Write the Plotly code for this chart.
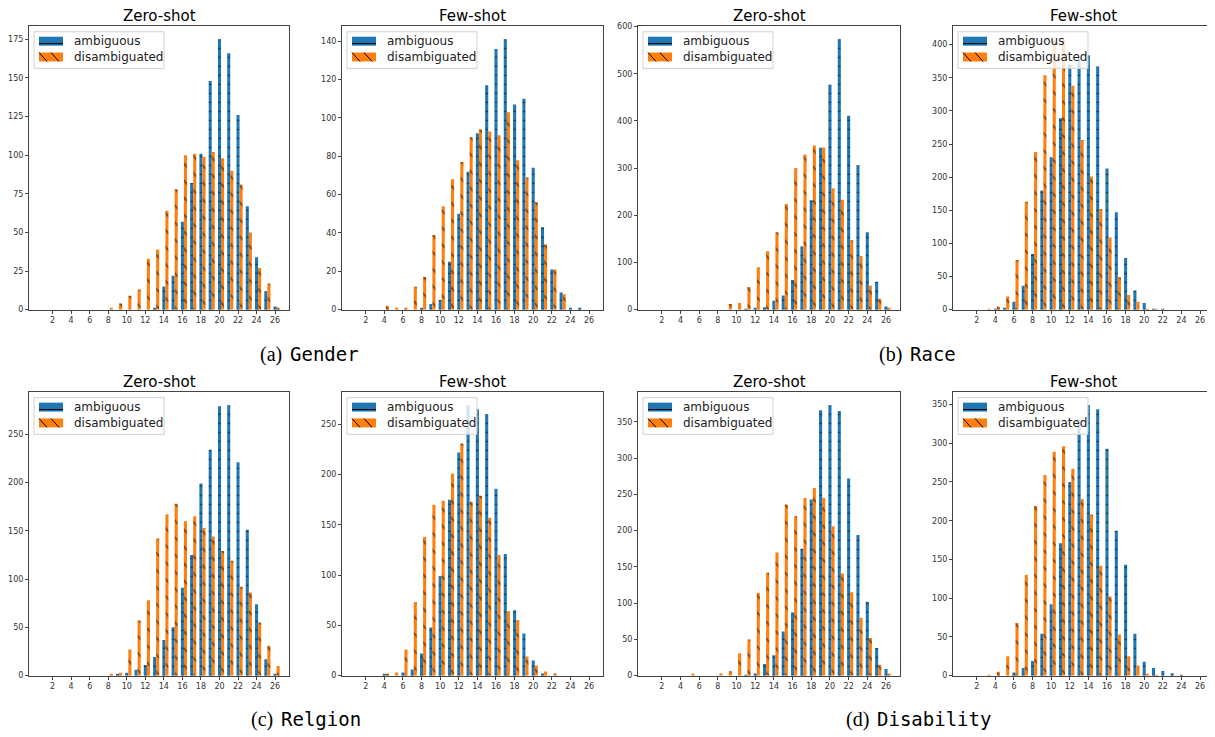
import plotly.graph_objects as go

PAGE_W, PAGE_H = 1215, 737
OFF = 8  # default body margin of the html page
W, H = PAGE_W - OFF, PAGE_H - OFF

scores = list(range(27))
tick_vals = list(range(2, 27, 2))

gender_zero_amb = [0,0,0,0,0,0,0,0,0,0,0,0,0,1,15,22,57,82,101,148,175,166,126,67,34,12,2]
gender_zero_dis = [0,0,0,0,0,0,0,0,1,4,9,13,33,39,64,78,100,101,99,102,98,90,81,50,27,17,1]
gender_few_amb = [0,0,0,0,0,0,0,0,1,3,5,25,50,72,92,117,136,141,107,110,74,43,21,9,1,1,0]
gender_few_dis = [0,0,0,0,2,1,1,12,17,39,54,68,77,90,94,93,91,103,78,69,56,34,21,8,0,0,0]
race_zero_amb = [0,0,0,0,0,0,0,0,0,0,0,1,2,5,19,30,63,134,232,343,477,573,411,306,164,59,7]
race_zero_dis = [0,0,0,0,0,0,0,0,0,12,14,48,90,124,164,224,300,329,348,344,257,233,147,114,51,23,3]
race_few_amb = [0,0,0,0,1,3,12,36,84,180,230,289,370,380,384,367,213,147,78,29,10,1,1,0,0,0,0]
race_few_dis = [0,0,0,1,5,20,75,163,238,354,405,408,338,256,201,152,109,49,22,12,1,1,0,0,0,0,0]
religion_zero_amb = [0,0,0,0,0,0,0,0,0,1,3,6,11,19,37,50,91,125,199,234,279,280,221,151,74,17,2]
religion_zero_dis = [0,0,0,0,0,0,0,0,1,3,27,57,78,142,167,178,160,165,153,144,129,119,92,86,55,31,10]
religion_few_amb = [0,0,0,0,1,0,3,6,22,48,99,175,222,269,265,260,186,121,65,42,15,2,0,0,0,0,0]
religion_few_dis = [0,0,0,0,1,3,26,73,138,170,174,201,231,173,179,157,120,64,55,19,10,4,2,0,0,0,0]
disability_zero_amb = [0,0,0,0,0,0,0,0,0,0,0,1,3,16,28,61,87,175,243,366,373,365,272,194,102,38,9]
disability_zero_dis = [0,0,0,0,0,2,0,0,3,6,31,50,114,142,170,236,220,245,259,245,206,141,115,80,52,15,3]
disability_few_amb = [0,0,0,0,0,0,4,10,19,54,92,171,250,325,349,344,293,187,143,54,18,10,6,3,1,0,0]
disability_few_dis = [0,0,0,1,5,25,68,130,219,259,289,296,267,228,208,142,102,53,25,13,2,1,0,0,0,0,0]

panel_titles = ["Zero-shot", "Few-shot", "Zero-shot", "Few-shot",
                "Zero-shot", "Few-shot", "Zero-shot", "Few-shot"]
series_names = ["ambiguous", "disambiguated"]
y_dticks = [25, 20, 100, 50, 50, 50, 50, 50]

panels = [
    (gender_zero_amb, gender_zero_dis),
    (gender_few_amb, gender_few_dis),
    (race_zero_amb, race_zero_dis),
    (race_few_amb, race_few_dis),
    (religion_zero_amb, religion_zero_dis),
    (religion_few_amb, religion_few_dis),
    (disability_zero_amb, disability_zero_dis),
    (disability_few_amb, disability_few_dis),
]

# page-pixel frames of each subplot (left, right) and rows (top, bottom)
col_px = [(29, 289), (342, 603), (638, 900), (953, 1214)]
row_px = [(23, 310), (393, 680)]


def px_x(p):
    return (p - OFF) / W


def px_y(p):
    return 1 - (p - OFF) / H


BLUE = "#1f77b4"
ORANGE = "#ff7f0e"
BW = 0.33

fig = go.Figure()
layout = dict(
    width=W, height=H,
    margin=dict(l=0, r=0, t=0, b=0),
    paper_bgcolor="white", plot_bgcolor="white",
    barmode="overlay", showlegend=False,
    font=dict(family="DejaVu Sans", color="#222"),
    annotations=[], shapes=[],
)


def pshape(kind, x0, y0, x1, y1, **kw):
    d = dict(type=kind, xref="paper", yref="paper",
             x0=px_x(x0), x1=px_x(x1), y0=px_y(y0), y1=px_y(y1), layer="above")
    d.update(kw)
    return d


for i, (amb, dis) in enumerate(panels):
    r, c = divmod(i, 4)
    xl, xr = col_px[c]
    yt, yb = row_px[r]
    n = i + 1
    xa = "x" if n == 1 else f"x{n}"
    ya = "y" if n == 1 else f"y{n}"

    fig.add_trace(go.Bar(
        x=scores, y=amb, name=series_names[0], xaxis=xa, yaxis=ya,
        width=BW, offset=-BW / 2,
        marker=dict(color=BLUE, line=dict(width=0),
                    pattern=dict(shape="-", fgcolor="black", size=9, solidity=0.13)),
    ))
    fig.add_trace(go.Bar(
        x=scores, y=dis, name=series_names[1], xaxis=xa, yaxis=ya,
        width=BW, offset=BW / 2,
        marker=dict(color=ORANGE, line=dict(width=0),
                    pattern=dict(shape="\\", fgcolor="black", size=12, solidity=0.15)),
    ))

    ymax = max(max(amb), max(dis)) * 1.05
    axis_common = dict(showline=True, mirror=True, linecolor="#444", linewidth=1,
                       showgrid=False, zeroline=False, ticks="outside", ticklen=3,
                       tickcolor="#444", tickfont=dict(size=8, color="#333"))
    layout["xaxis" if n == 1 else f"xaxis{n}"] = dict(
        domain=[px_x(xl), px_x(xr)], anchor=ya, range=[-0.55, 27.5],
        tickvals=tick_vals, **axis_common)
    layout["yaxis" if n == 1 else f"yaxis{n}"] = dict(
        domain=[px_y(yb), px_y(yt)], anchor=xa, range=[0, ymax],
        dtick=y_dticks[i], tick0=0, **axis_common)

    # legend box (matplotlib style, top-left inside the axes)
    bx0, bx1, by0, by1 = xl + 5, xl + 135, yt + 6, yt + 43
    layout["shapes"].append(pshape("rect", bx0, by0, bx1, by1,
                                   fillcolor="rgba(255,255,255,0.8)",
                                   line=dict(color="#d0d0d0", width=1)))
    # swatch: ambiguous
    layout["shapes"].append(pshape("rect", xl + 10, yt + 11, xl + 34, yt + 20,
                                   fillcolor=BLUE, line=dict(width=0)))
    layout["shapes"].append(pshape("line", xl + 10, yt + 18, xl + 34, yt + 18,
                                   line=dict(color="black", width=1)))
    # swatch: disambiguated
    layout["shapes"].append(pshape("rect", xl + 10, yt + 27, xl + 34, yt + 36,
                                   fillcolor=ORANGE, line=dict(width=0)))
    for sx in (xl + 10, xl + 22):
        layout["shapes"].append(pshape("line", sx, yt + 27, sx + 8, yt + 36,
                                       line=dict(color="black", width=1)))
    for k, name in enumerate(series_names):
        layout["annotations"].append(dict(
            text=name, x=px_x(xl + 43), y=px_y(yt + 15.5 + 16 * k),
            xref="paper", yref="paper", showarrow=False,
            xanchor="left", yanchor="middle",
            font=dict(size=12, color="#222", family="DejaVu Sans"),
        ))

    layout["annotations"].append(dict(
        text=panel_titles[i], x=px_x((xl + xr) / 2), y=px_y(yt - 10),
        xref="paper", yref="paper", showarrow=False, xanchor="center", yanchor="middle",
        font=dict(size=15, color="black", family="DejaVu Sans"),
    ))

captions = [("(a)", "Gender", 284, 355), ("(b)", "Race", 904, 355),
            ("(c)", "Relgion", 275, 724), ("(d)", "Disability", 871, 724)]
for lab, name, xpx, ypx in captions:
    layout["annotations"].append(dict(
        text=lab, x=px_x(xpx), y=px_y(ypx), xref="paper", yref="paper",
        showarrow=False, xanchor="right", yanchor="middle",
        font=dict(size=20, color="black", family="Liberation Serif"),
    ))
    layout["annotations"].append(dict(
        text=name, x=px_x(xpx + 4), y=px_y(ypx), xref="paper", yref="paper",
        showarrow=False, xanchor="left", yanchor="middle",
        font=dict(size=19, color="black", family="DejaVu Sans Mono"),
    ))

fig.update_layout(**layout)
fig.write_html("out.html")
